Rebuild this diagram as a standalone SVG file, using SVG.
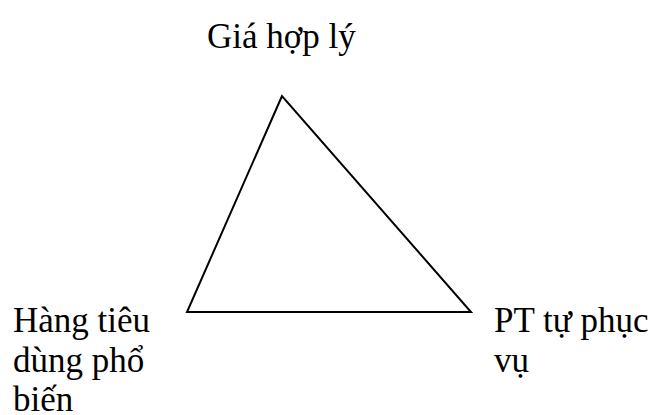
<svg xmlns="http://www.w3.org/2000/svg" width="657" height="415" viewBox="0 0 657 415">
<style>
text{font-family:"Liberation Serif","Times New Roman",serif;font-size:35px;fill:#000}
.edge{fill:none;stroke:#000;stroke-width:2}
</style>
<rect width="657" height="415" fill="#fff"/>
<g id="connectors">
<polygon class="edge" points="282,96 187,312 471,312"/>
</g>
<g id="node-top"><text x="207" y="48">Giá hợp lý</text></g>
<g id="node-left"><text x="13" y="332">Hàng tiêu</text><text x="13" y="372">dùng phổ</text><text x="13" y="411">biến</text></g>
<g id="node-right"><text x="494" y="332">PT tự phục</text><text x="494" y="372">vụ</text></g>
</svg>
